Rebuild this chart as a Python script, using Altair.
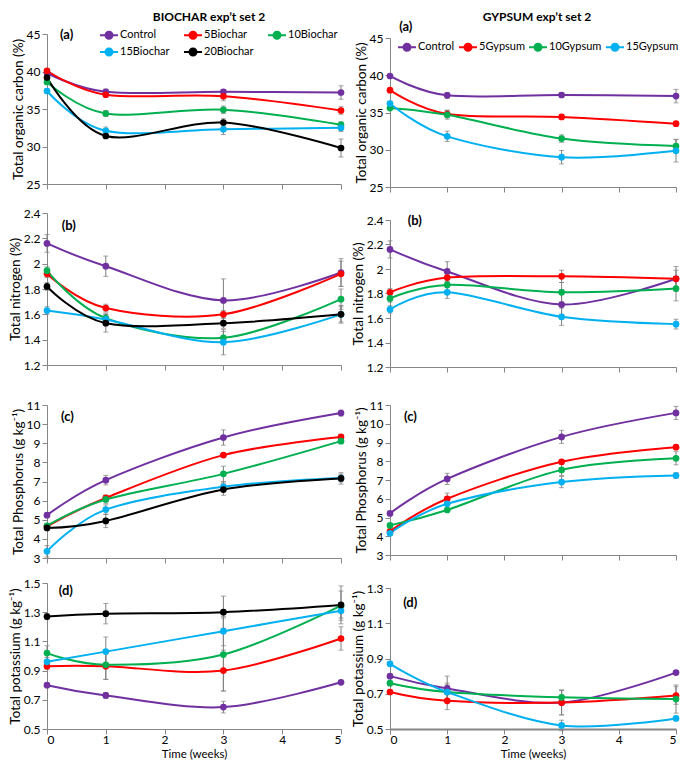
import altair as alt
import pandas as pd

FONT = "Lato"
WEEKS = [0, 1, 3, 5]
ERR_GRAY = "#7F7F7F"
AXIS_GRAY = "#868686"

bio_series = ["Control", "5Biochar", "10Biochar", "15Biochar", "20Biochar"]
bio_colors = ["#7030A0", "#FF0000", "#00B050", "#00B0F0", "#000000"]
gyp_series = ["Control", "5Gypsum", "10Gypsum", "15Gypsum"]
gyp_colors = ["#7030A0", "#FF0000", "#00B050", "#00B0F0"]

# ---- BIOCHAR: total organic carbon (%) ----
bio_toc = {
    "Control": [39.8, 37.3, 37.3, 37.2],
    "5Biochar": [40.1, 36.9, 36.7, 34.8],
    "10Biochar": [38.6, 34.4, 34.9, 32.9],
    "15Biochar": [37.4, 32.1, 32.3, 32.5],
    "20Biochar": [39.2, 31.4, 33.2, 29.8],
}
bio_toc_err = {
    "Control": [0.3, 0.35, 0.3, 0.9],
    "5Biochar": [0.2, 0.3, 0.6, 0.5],
    "10Biochar": [0.3, 0.4, 0.5, 0.4],
    "15Biochar": [0.3, 0.5, 0.7, 0.5],
    "20Biochar": [0.4, 0.3, 0.5, 1.2],
}
# ---- BIOCHAR: total nitrogen (%) ----
bio_tn = {
    "Control": [2.16, 1.98, 1.71, 1.93],
    "5Biochar": [1.92, 1.65, 1.60, 1.92],
    "10Biochar": [1.945, 1.57, 1.415, 1.72],
    "15Biochar": [1.63, 1.56, 1.38, 1.60],
    "20Biochar": [1.82, 1.53, 1.53, 1.60],
}
bio_tn_err = {
    "Control": [0.07, 0.08, 0.17, 0.11],
    "5Biochar": [0.03, 0.03, 0.03, 0.10],
    "10Biochar": [0.03, 0.04, 0.05, 0.08],
    "15Biochar": [0.03, 0.04, 0.10, 0.06],
    "20Biochar": [0.03, 0.07, 0.04, 0.07],
}
# ---- BIOCHAR: total phosphorus (g/kg) ----
bio_tp = {
    "Control": [5.24, 7.07, 9.30, 10.58],
    "5Biochar": [4.66, 6.14, 8.38, 9.33],
    "10Biochar": [4.68, 6.06, 7.40, 9.11],
    "15Biochar": [3.35, 5.53, 6.72, 7.18],
    "20Biochar": [4.57, 4.94, 6.58, 7.16],
}
bio_tp_err = {
    "Control": [0.10, 0.25, 0.40, 0.15],
    "5Biochar": [0.10, 0.15, 0.10, 0.10],
    "10Biochar": [0.10, 0.20, 0.40, 0.10],
    "15Biochar": [0.30, 0.25, 0.25, 0.20],
    "20Biochar": [0.10, 0.35, 0.30, 0.30],
}
# ---- BIOCHAR: total potassium (g/kg) ----
bio_tk = {
    "Control": [0.80, 0.73, 0.65, 0.82],
    "5Biochar": [0.93, 0.93, 0.90, 1.12],
    "10Biochar": [1.02, 0.94, 1.01, 1.345],
    "15Biochar": [0.96, 1.03, 1.17, 1.31],
    "20Biochar": [1.27, 1.29, 1.30, 1.35],
}
bio_tk_err = {
    "Control": [0.01, 0.02, 0.04, 0.01],
    "5Biochar": [0.02, 0.09, 0.14, 0.08],
    "10Biochar": [0.05, 0.10, 0.25, 0.10],
    "15Biochar": [0.03, 0.10, 0.10, 0.05],
    "20Biochar": [0.02, 0.07, 0.11, 0.13],
}

# ---- GYPSUM: total organic carbon (%) ----
gyp_toc = {
    "Control": [39.9, 37.3, 37.35, 37.2],
    "5Gypsum": [38.0, 34.8, 34.4, 33.5],
    "10Gypsum": [35.6, 34.7, 31.5, 30.5],
    "15Gypsum": [36.2, 31.8, 29.0, 29.85],
}
gyp_toc_err = {
    "Control": [0.2, 0.4, 0.3, 0.9],
    "5Gypsum": [0.2, 0.5, 0.3, 0.3],
    "10Gypsum": [0.2, 0.6, 0.5, 0.9],
    "15Gypsum": [0.3, 0.7, 0.9, 1.5],
}
# ---- GYPSUM: total nitrogen (%) ----
gyp_tn = {
    "Control": [2.16, 1.98, 1.71, 1.92],
    "5Gypsum": [1.81, 1.93, 1.94, 1.92],
    "10Gypsum": [1.76, 1.87, 1.81, 1.84],
    "15Gypsum": [1.67, 1.81, 1.61, 1.55],
}
gyp_tn_err = {
    "Control": [0.07, 0.08, 0.12, 0.07],
    "5Gypsum": [0.03, 0.03, 0.05, 0.10],
    "10Gypsum": [0.03, 0.05, 0.08, 0.10],
    "15Gypsum": [0.03, 0.05, 0.07, 0.04],
}
# ---- GYPSUM: total phosphorus (g/kg) ----
gyp_tp = {
    "Control": [5.22, 7.06, 9.30, 10.58],
    "5Gypsum": [4.26, 6.00, 7.97, 8.75],
    "10Gypsum": [4.58, 5.40, 7.54, 8.16],
    "15Gypsum": [4.16, 5.73, 6.89, 7.24],
}
gyp_tp_err = {
    "Control": [0.10, 0.30, 0.35, 0.35],
    "5Gypsum": [0.10, 0.30, 0.10, 0.10],
    "10Gypsum": [0.10, 0.10, 0.30, 0.35],
    "15Gypsum": [0.10, 0.10, 0.30, 0.15],
}
# ---- GYPSUM: total potassium (g/kg) ----
gyp_tk = {
    "Control": [0.80, 0.73, 0.65, 0.82],
    "5Gypsum": [0.71, 0.66, 0.65, 0.69],
    "10Gypsum": [0.76, 0.71, 0.68, 0.67],
    "15Gypsum": [0.87, 0.71, 0.52, 0.56],
}
gyp_tk_err = {
    "Control": [0.01, 0.07, 0.07, 0.01],
    "5Gypsum": [0.01, 0.05, 0.07, 0.05],
    "10Gypsum": [0.01, 0.05, 0.04, 0.08],
    "15Gypsum": [0.01, 0.04, 0.03, 0.01],
}

# legend symbol: short line with a dot in the middle
LEG_PATH = "M-1.8,0L1.8,0M0.7,0A0.7,0.7,0,1,1,-0.7,0A0.7,0.7,0,1,1,0.7,0Z"


def make_df(series, vals, errs):
    rows = []
    for s in series:
        for w, v, e in zip(WEEKS, vals[s], errs[s]):
            rows.append({"week": w, "series": s, "value": v, "lo": v - e, "hi": v + e})
    return pd.DataFrame(rows)


def panel(series, colors, vals, errs, ytitle, ydom, yticks, yfmt, tag, tag_pos,
          width, height, bottom=False, legend=None, head=None, xdomw=1):
    df = make_df(series, vals, errs)
    if bottom:
        xaxis = alt.Axis(values=[0, 1, 2, 3, 4, 5], title="Time (weeks)", labels=True,
                         grid=False, tickSize=5, tickColor=AXIS_GRAY, domainColor=AXIS_GRAY,
                         domainWidth=xdomw, labelFont=FONT, labelFontSize=12, labelColor="black",
                         labelPadding=0, labelOverlap=False, titleFont=FONT,
                         titleFontSize=11.5, titleFontWeight="normal", titleColor="black",
                         titlePadding=3, format="d")
    else:
        xaxis = alt.Axis(values=[0, 1, 2, 3, 4, 5], title=None, labels=False, grid=False,
                         tickSize=5, tickColor=AXIS_GRAY, domainColor=AXIS_GRAY, domainWidth=1)
    xscale = alt.Scale(domain=[0, 5], nice=False)
    xenc = alt.X("week:Q", scale=xscale, axis=xaxis)
    yscale = alt.Scale(domain=ydom, nice=False, zero=False)
    yaxis = alt.Axis(title=ytitle, values=yticks, format=yfmt, grid=False, tickSize=5,
                     tickColor=AXIS_GRAY, domainColor=AXIS_GRAY, labelFont=FONT,
                     labelFontSize=12, labelColor="black", labelPadding=2,
                     labelOverlap=False, titleFont=FONT, titleFontSize=13.5,
                     titleFontWeight="normal", titleColor="black", titlePadding=1)
    sscale = alt.Scale(domain=series, range=colors)
    base = alt.Chart(df)
    if legend is None:
        stroke = alt.Stroke("series:N", scale=sscale, legend=None)
        fill = alt.Fill("series:N", scale=sscale, legend=None)
    else:
        stroke = alt.Stroke("series:N", scale=sscale, legend=legend)
        fill = alt.Fill("series:N", scale=sscale, legend=legend)
    lines = base.mark_line(interpolate="cardinal", strokeWidth=2).encode(
        x=xenc, y=alt.Y("value:Q", scale=yscale, axis=yaxis), stroke=stroke)
    bars = base.mark_errorbar(ticks=True, color=ERR_GRAY, thickness=1).encode(
        x=xenc, y=alt.Y("lo:Q", scale=yscale, axis=yaxis), y2="hi:Q")
    pts = base.mark_point(filled=True, size=45, opacity=1).encode(
        x=xenc, y=alt.Y("value:Q", scale=yscale, axis=yaxis), fill=fill)
    lab = alt.Chart(pd.DataFrame({"t": [tag]})).mark_text(
        font=FONT, fontSize=13, fontWeight="bold", align="left", baseline="middle",
        color="black").encode(
        x=alt.X(datum=tag_pos[0], scale=xscale, axis=xaxis),
        y=alt.Y(datum=tag_pos[1], scale=yscale, axis=yaxis), text="t:N")
    layers = [lines, bars, pts, lab]
    if head is not None:
        hd = alt.Chart(pd.DataFrame({"t": [head[0]]})).mark_text(
            font=FONT, fontSize=12, fontWeight="bold", align="center", baseline="middle",
            color="black").encode(
            x=alt.X(datum=head[1], scale=xscale, axis=xaxis),
            y=alt.Y(datum=head[2], scale=yscale, axis=yaxis), text="t:N")
        # invisible anchor keeping a little room above the heading
        pad = alt.Chart(pd.DataFrame({"t": [0]})).mark_point(opacity=0, size=4).encode(
            x=alt.X(datum=head[1], scale=xscale, axis=xaxis),
            y=alt.Y(datum=head[3], scale=yscale, axis=yaxis))
        layers += [hd, pad]
    return alt.layer(*layers).properties(width=width, height=height)


def spacer(width, height):
    return alt.Chart(pd.DataFrame({"s": [0]})).mark_point(opacity=0).encode(
        x=alt.X("s:Q", axis=None), y=alt.Y("s:Q", axis=None)).properties(width=width, height=height)


def col_legend(columns, lx, ly, cpad):
    return alt.Legend(title=None, orient="none", legendX=lx, legendY=ly, columns=columns,
                      direction="horizontal", symbolType=LEG_PATH, symbolSize=100,
                      symbolStrokeWidth=2, symbolOpacity=1, labelFont=FONT,
                      labelFontSize=11, labelColor="black", labelOffset=5,
                      columnPadding=cpad, rowPadding=1)


LW = 294
RW = 286

left = alt.vconcat(
    panel(bio_series, bio_colors, bio_toc, bio_toc_err, "Total organic carbon (%)",
          [25, 45], [25, 30, 35, 40, 45], "d", "(a)", (0.22, 44.9), LW, 150,
          legend=col_legend(3, 56, -5, 10),
          head=("BIOCHAR exp’t set 2", 2.755, 47.27, 48.2)),
    spacer(LW, 29),
    panel(bio_series, bio_colors, bio_tn, bio_tn_err, "Total nitrogen (%)",
          [1.2, 2.4], [1.2, 1.4, 1.6, 1.8, 2.0, 2.2, 2.4], "~g", "(b)", (0.25, 2.3), LW, 152),
    spacer(LW, 40),
    panel(bio_series, bio_colors, bio_tp, bio_tp_err, "Total Phosphorus (g kg⁻¹)",
          [3, 11], [3, 4, 5, 6, 7, 8, 9, 10, 11], "d", "(c)", (0.24, 10.37), LW, 153),
    spacer(LW, 25),
    panel(bio_series, bio_colors, bio_tk, bio_tk_err, "Total potassium (g kg⁻¹)",
          [0.5, 1.5], [0.5, 0.7, 0.9, 1.1, 1.3, 1.5], ".1f", "(d)", (0.2, 1.445), LW, 146,
          bottom=True),
    spacing=0, bounds="flush",
).resolve_scale(x="independent", y="independent", stroke="independent", fill="independent")

right = alt.vconcat(
    spacer(RW, 4),
    panel(gyp_series, gyp_colors, gyp_toc, gyp_toc_err, "Total organic carbon (%)",
          [25, 45], [25, 30, 35, 40, 45], "d", "(a)", (0.16, 46.5), RW, 149,
          legend=col_legend(4, 11, 3, 0),
          head=("GYPSUM exp’t set 2", 2.57, 47.82, 48.76)),
    spacer(RW, 33),
    panel(gyp_series, gyp_colors, gyp_tn, gyp_tn_err, "Total nitrogen (%)",
          [1.2, 2.4], [1.2, 1.4, 1.6, 1.8, 2.0, 2.2, 2.4], "~g", "(b)", (0.31, 2.39), RW, 147),
    spacer(RW, 38),
    panel(gyp_series, gyp_colors, gyp_tp, gyp_tp_err, "Total Phosphorus (g kg⁻¹)",
          [3, 11], [3, 4, 5, 6, 7, 8, 9, 10, 11], "d", "(c)", (0.245, 10.36), RW, 150),
    spacer(RW, 33),
    panel(gyp_series, gyp_colors, gyp_tk, gyp_tk_err, "Total potassium (g kg⁻¹)",
          [0.5, 1.3], [0.5, 0.7, 0.9, 1.1, 1.3], ".1f", "(d)", (0.23, 1.215), RW, 141,
          bottom=True, xdomw=2),
    spacing=0, bounds="flush",
).resolve_scale(x="independent", y="independent", stroke="independent", fill="independent")

chart = alt.hconcat(left, right, spacing=6).resolve_scale(
    x="independent", y="independent", stroke="independent", fill="independent"
).properties(padding=0).configure_view(strokeWidth=0)

chart.save("out.html", embed_options={"renderer": "svg", "actions": False})
